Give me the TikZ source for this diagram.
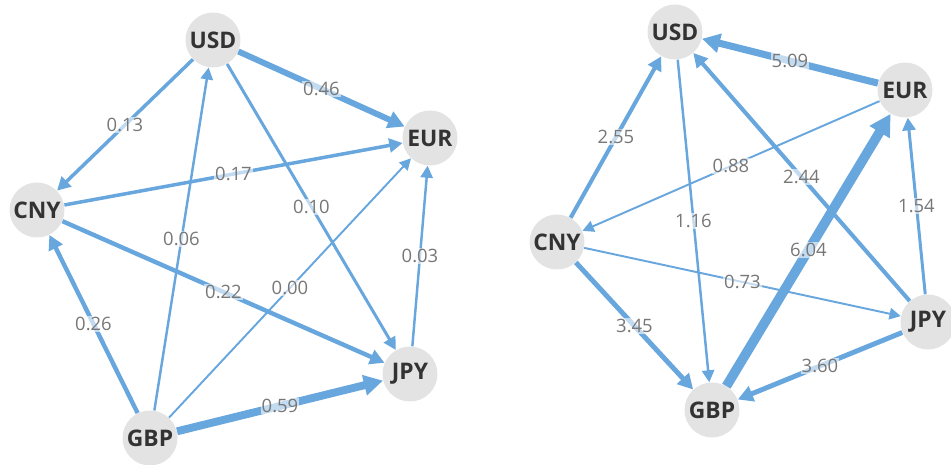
\documentclass[tikz,border=0pt]{standalone}
\usepackage{fontspec}
\setmainfont{Open Sans}
\usetikzlibrary{arrows.meta}
\definecolor{bleu}{HTML}{68A6DE}
\definecolor{gris}{HTML}{E3E3E3}
\definecolor{encre}{HTML}{333333}
\definecolor{etiq}{HTML}{777777}

\begin{document}
\begin{tikzpicture}[x=0.02cm, y=-0.02cm]
% style des noeuds
\tikzstyle{devise} = [circle, fill=gris, minimum size=1.1cm, inner sep=0pt, text=encre, font=\fontsize{13}{13}\selectfont\bfseries]
\tikzstyle{valeur} = [fill=white, fill opacity=0.6, text opacity=1, text=etiq, inner sep=0.6pt, font=\fontsize{10.5}{10.5}\selectfont]
% style des flèches
\tikzstyle{flux} = [draw=bleu, -{Triangle[length=5pt 1.3, width=5pt 1.4]}]

\useasboundingbox (0,0) rectangle (951,465);

%% graphe de gauche : noeuds
\node[devise] (usdA) at (213,40) {USD};
\node[devise] (eurA) at (430,138) {EUR};
\node[devise] (cnyA) at (37,210) {CNY};
\node[devise] (jpyA) at (410,374) {JPY};
\node[devise] (gbpA) at (150,438) {GBP};
%
%% graphe de gauche : flèches
\draw[flux, line width=2pt] (usdA) -- node[valeur] {0.13} (cnyA);
\draw[flux, line width=3.4pt] (usdA) -- node[valeur] {0.46} (eurA);
\draw[flux, line width=1.7pt] (usdA) -- node[valeur] {0.10} (jpyA);
\draw[flux, line width=2pt] (cnyA) -- node[valeur] {0.17} (eurA);
\draw[flux, line width=2.5pt] (cnyA) -- node[valeur] {0.22} (jpyA);
\draw[flux, line width=1.4pt] (gbpA) -- node[valeur] {0.06} (usdA);
\draw[flux, line width=1.1pt] (gbpA) -- node[valeur] {0.00} (eurA);
\draw[flux, line width=2.5pt] (gbpA) -- node[valeur] {0.26} (cnyA);
\draw[flux, line width=4.5pt] (gbpA) -- node[valeur] {0.59} (jpyA);
\draw[flux, line width=1.4pt] (jpyA) -- node[valeur] {0.03} (eurA);

%% graphe de droite : noeuds
\node[devise] (usdB) at (675,32) {USD};
\node[devise] (eurB) at (905,90) {EUR};
\node[devise] (cnyB) at (557,242) {CNY};
\node[devise] (jpyB) at (928,322) {JPY};
\node[devise] (gbpB) at (712,410) {GBP};
%
%% graphe de droite : flèches
\draw[flux, line width=4pt] (eurB) -- node[valeur] {5.09} (usdB);
\draw[flux, line width=2.3pt] (cnyB) -- node[valeur] {2.55} (usdB);
\draw[flux, line width=1.1pt] (eurB) -- node[valeur] {0.88} (cnyB);
\draw[flux, line width=1.4pt] (usdB) -- node[valeur] {1.16} (gbpB);
\draw[flux, line width=2.3pt] (jpyB) -- node[valeur] {2.44} (usdB);
\draw[flux, line width=5.5pt] (gbpB) -- node[valeur] {6.04} (eurB);
\draw[flux, line width=1.7pt] (jpyB) -- node[valeur] {1.54} (eurB);
\draw[flux, line width=1.1pt] (cnyB) -- node[valeur] {0.73} (jpyB);
\draw[flux, line width=2.8pt] (cnyB) -- node[valeur] {3.45} (gbpB);
\draw[flux, line width=2.8pt] (jpyB) -- node[valeur] {3.60} (gbpB);
\end{tikzpicture}
\end{document}
